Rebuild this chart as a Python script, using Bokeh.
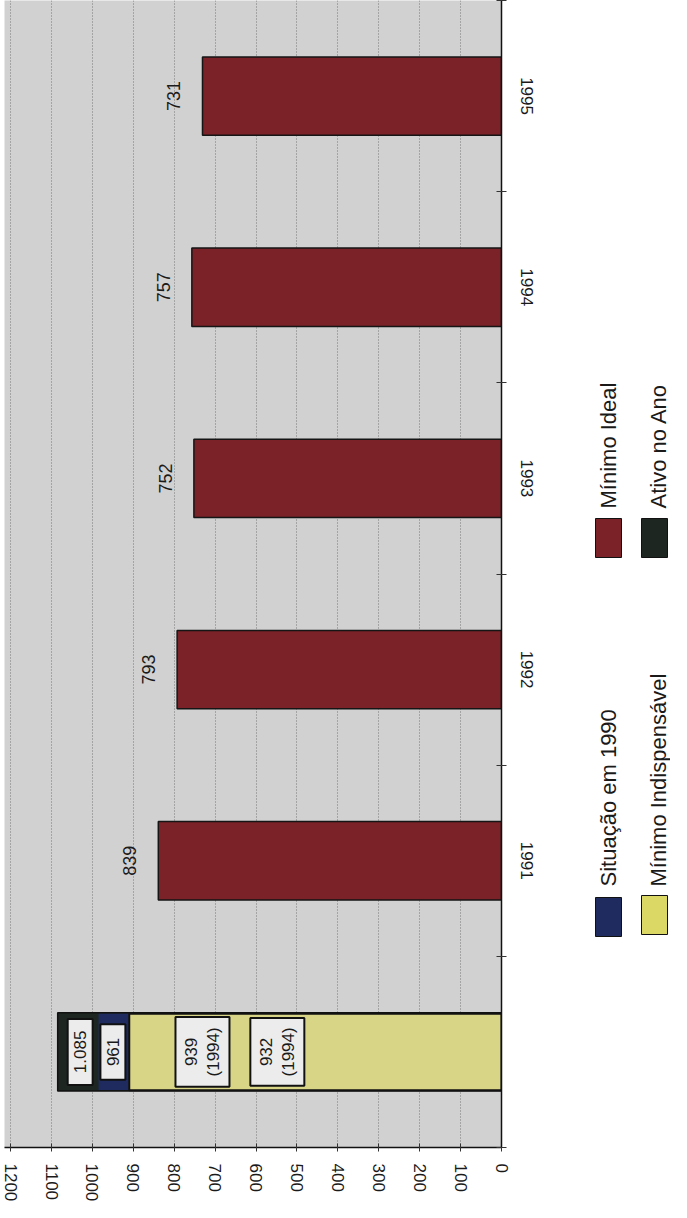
import math
from bokeh.plotting import figure
from bokeh.layouts import row
from bokeh.models import Range1d, FixedTicker, ColumnDataSource
from bokeh.core.properties import value
from bokeh.embed import file_html
from bokeh.resources import INLINE

# ---------------- data ----------------
years = ["1991", "1992", "1993", "1994", "1995"]
minimo_ideal = [839, 793, 752, 757, 731]
ideal_labels = ["839", "793", "752", "757", "731"]

# 1990 column (overlapping bars, as drawn)
ativo_no_ano_1990 = 1085
situacao_1990 = 985
minimo_indispensavel_1990 = 910
box_texts_1990 = ["1.085", "961", "939\n(1994)", "932\n(1994)"]

x_tick_values = [0, 100, 200, 300, 400, 500, 600, 700, 800, 900, 1000, 1100, 1200]

legend_names = ["Mínimo Ideal", "Ativo no Ano", "Situação em 1990", "Mínimo Indispensável"]

# ---------------- styles ----------------
FONT = "Liberation Sans"
C_RED = "#7a2227"
C_DARK = "#1d2621"
C_BLUE = "#1f2b5e"
C_YELLOW = "#d8d587"
C_YELLOW_LEG = "#dcd865"
BG = "#d1d1d1"
TXT = "#1a1a1a"

H = 1204
p = figure(width=560, height=H, x_range=Range1d(1215, 0), y_range=Range1d(0, 6),
           output_backend="svg", toolbar_location=None, y_axis_location="right",
           min_border_left=4, min_border_top=0, min_border_bottom=56, min_border_right=59)
p.background_fill_color = BG
p.border_fill_color = "white"
p.outline_line_color = None

# grid
p.ygrid.grid_line_color = None
p.xgrid.ticker = FixedTicker(ticks=x_tick_values)
p.xgrid.grid_line_color = "#5a5a5a"
p.xgrid.grid_line_alpha = 0.75
p.xgrid.grid_line_dash = "1 2"
p.xgrid.grid_line_width = 1

# bottom (value) axis
xa = p.xaxis[0]
xa.ticker = FixedTicker(ticks=x_tick_values, minor_ticks=[])
xa.major_label_orientation = "vertical"
xa.major_tick_in = 4
xa.major_tick_out = 4
xa.major_label_standoff = 12
xa.major_label_text_font = FONT
xa.major_label_text_font_size = "17px"
xa.major_label_text_color = TXT
xa.axis_line_width = 1.5
xa.axis_line_color = "#111111"
xa.major_tick_line_color = "#333333"

# right (category) axis
cat_pos = [i + 1.5 for i in range(len(years))]
ya = p.yaxis[0]
ya.ticker = FixedTicker(ticks=cat_pos, minor_ticks=[0, 1, 2, 3, 4, 5, 6])
ya.major_label_overrides = {c: y for c, y in zip(cat_pos, years)}
ya.major_tick_line_color = None
ya.major_tick_out = 0
ya.major_tick_in = 0
ya.minor_tick_in = 5
ya.minor_tick_out = 5
ya.minor_tick_line_color = "#333333"
ya.major_label_orientation = "vertical"
ya.major_label_standoff = 14
ya.major_label_text_font = FONT
ya.major_label_text_font_size = "17px"
ya.major_label_text_color = TXT
ya.axis_line_color = "#111111"
ya.axis_line_width = 1.5

BAR_H = 0.41
# Mínimo Ideal bars
src = ColumnDataSource(dict(y=cat_pos, right=minimo_ideal, lab=ideal_labels,
                            lx=[v + 70 for v in minimo_ideal]))
p.hbar(y="y", left=0, right="right", height=BAR_H, source=src,
       fill_color=C_RED, line_color="#151515", line_width=1.5)
p.text(x="lx", y="y", text="lab", source=src, angle=math.pi / 2,
       text_align="center", text_baseline="middle",
       text_font=value(FONT), text_font_size="18px", text_color=TXT)

# 1990 column
y90 = 0.5
p.hbar(y=[y90], left=0, right=[ativo_no_ano_1990], height=BAR_H,
       fill_color=C_DARK, line_color="#111111", line_width=1.5)
p.hbar(y=[y90], left=0, right=[situacao_1990], height=BAR_H - 0.012,
       fill_color=C_BLUE, line_color=None)
p.hbar(y=[y90], left=0, right=[minimo_indispensavel_1990], height=BAR_H - 0.01,
       fill_color=C_YELLOW, line_color="#111111", line_width=2)

# annotation boxes in the 1990 column
bx = [1030, 950, 731, 548]
bw = [61, 61, 132, 132]
bh = [0.345, 0.29, 0.365, 0.355]
p.rect(x=bx, y=[y90] * 4, width=bw, height=bh, fill_color="#ececec",
       line_color="#111111", line_width=2)
p.text(x=bx, y=[y90] * 4, text=box_texts_1990, angle=math.pi / 2,
       text_align="center", text_baseline="middle", text_font=value(FONT),
       text_font_size="17px", text_color=TXT, text_line_height=1.15)

# ---------------- legend (separate panel, rotated text) ----------------
LW = 110
lg = figure(frame_width=LW, frame_height=H, x_range=Range1d(0, LW), y_range=Range1d(0, H),
            output_backend="svg", toolbar_location=None, min_border=0,
            x_axis_location=None, y_axis_location=None)
lg.grid.visible = False
lg.outline_line_color = None
lg.background_fill_color = "white"

def fy(page_y):
    return (H + 8) - page_y

def fx(page_x):
    return page_x - 568

leg_colors = [C_RED, C_DARK, C_BLUE, C_YELLOW_LEG]
sw_left = [603, 649, 603, 649]
sw_top = [526, 526, 905, 903]
txt_x = [616, 666, 616, 666]
txt_y = [516, 516, 894, 894]
lg.quad(left=[fx(v) for v in sw_left], right=[fx(v + 26) for v in sw_left],
        top=[fy(v) for v in sw_top], bottom=[fy(v + 39) for v in sw_top],
        fill_color=leg_colors, line_color="#111111", line_width=1)
lg.text(x=[fx(v) for v in txt_x], y=[fy(v) for v in txt_y], text=legend_names,
        angle=math.pi / 2, text_align="left", text_baseline="middle",
        text_font=value(FONT), text_font_size="22px", text_color=TXT)

layout = row(p, lg)
open("out.html", "w").write(file_html(layout, INLINE))
